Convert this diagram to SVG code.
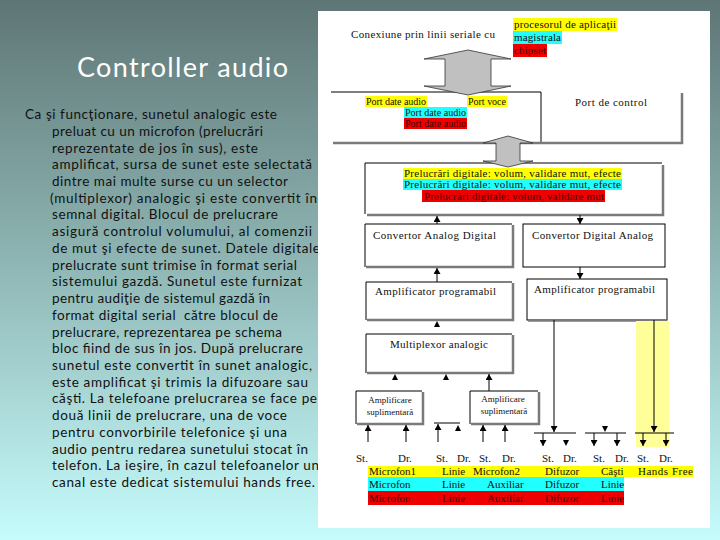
<svg xmlns="http://www.w3.org/2000/svg" width="720" height="540" viewBox="0 0 720 540">
<defs>
<linearGradient id="bg" x1="0" y1="0" x2="0" y2="1">
<stop offset="0" stop-color="#5e7675"/>
<stop offset="0.5" stop-color="#90b8b6"/>
<stop offset="1" stop-color="#c6fcfc"/>
</linearGradient>
<marker id="ah" markerUnits="userSpaceOnUse" markerWidth="6" markerHeight="7" refX="6" refY="3.5" orient="auto" viewBox="0 0 6 7"><path d="M0,0 L6,3.5 L0,7 z" fill="#000"/></marker>
</defs>
<style>
.body{font-family:Lato,"Open Sans",sans-serif;font-size:13.5px;fill:#111}
.title{font-family:Lato,"Open Sans",sans-serif;font-size:27px;fill:#fff}
.t{font-family:"Liberation Serif","Times New Roman",serif;font-size:11px;fill:#111}
.s{font-size:9px}
.p{font-size:10px}
.y{fill:#ffff00}.c{fill:#22ffff}.r{fill:#ee0000}
.rt{fill:#4a0000}
.bl{fill:none;stroke:#000;stroke-width:1}
.sh{fill:none;stroke:#7a7a7a;stroke-width:2.5}
.ln{stroke:#000;stroke-width:1;fill:none}
.ar{stroke:#000;stroke-width:1;fill:none;marker-end:url(#ah)}
.big{fill:#c0c0c0;stroke:#333;stroke-width:0.8}
.tri{fill:#000}
</style>
<rect x="0" y="0" width="720" height="540" fill="url(#bg)"/>

<g id="text-panel">
<text class="title" x="77" y="77" textLength="211">Controller audio</text>
<text class="body" x="25" y="119" textLength="252">Ca şi funcţionare, sunetul analogic este</text>
<text class="body" x="52" y="135.7" textLength="211">preluat cu un microfon (prelucrări</text>
<text class="body" x="52" y="152.5" textLength="206">reprezentate de jos în sus), este</text>
<text class="body" x="52" y="169.2" textLength="260">amplificat, sursa de sunet este selectată</text>
<text class="body" x="52" y="185.9" textLength="236">dintre mai multe surse cu un selector</text>
<text class="body" x="50" y="202.7" textLength="267">(multiplexor) analogic şi este convertit în</text>
<text class="body" x="52" y="219.4" textLength="226">semnal digital. Blocul de prelucrare</text>
<text class="body" x="52" y="236.1" textLength="260">asigură controlul volumului, al comenzii</text>
<text class="body" x="52" y="252.8" textLength="268">de mut şi efecte de sunet. Datele digitale</text>
<text class="body" x="52" y="269.6" textLength="245">prelucrate sunt trimise în format serial</text>
<text class="body" x="52" y="286.3" textLength="250">sistemului gazdă. Sunetul este furnizat</text>
<text class="body" x="52" y="303" textLength="218">pentru audiţie de sistemul gazdă în</text>
<text class="body" x="52" y="319.8" textLength="226" xml:space="preserve">format digital serial  către blocul de</text>
<text class="body" x="52" y="336.5" textLength="230">prelucrare, reprezentarea pe schema</text>
<text class="body" x="52" y="353.2" textLength="251">bloc fiind de sus în jos. După prelucrare</text>
<text class="body" x="52" y="370" textLength="260">sunetul este convertit în sunet analogic,</text>
<text class="body" x="52" y="386.7" textLength="256">este amplificat şi trimis la difuzoare sau</text>
<text class="body" x="52" y="403.4" textLength="265">căşti. La telefoane prelucrarea se face pe</text>
<text class="body" x="52" y="420.1" textLength="235">două linii de prelucrare, una de voce</text>
<text class="body" x="52" y="436.9" textLength="235">pentru convorbirile telefonice şi una</text>
<text class="body" x="52" y="453.6" textLength="256">audio pentru redarea sunetului stocat în</text>
<text class="body" x="52" y="470.3" textLength="267">telefon. La ieşire, în cazul telefoanelor un</text>
<text class="body" x="52" y="487" textLength="263">canal este dedicat sistemului hands free.</text>
</g>

<rect id="diagram-panel" x="318" y="11" width="392" height="517" fill="#ffffff"/>

<g id="host-label">
<text class="t" x="351" y="38" textLength="144">Conexiune prin linii seriale cu</text>
<rect class="y" x="513" y="18" width="104" height="13"/>
<text class="t" x="514" y="28" textLength="102">procesorul de aplicaţii</text>
<rect class="c" x="513" y="31" width="49" height="13"/>
<text class="t" x="514" y="41" textLength="47">magistrala</text>
<rect class="r" x="513" y="44" width="34" height="13"/>
<text class="t rt" x="514" y="54" textLength="32">chipset</text>
</g>

<g id="ports">
<path class="bl" d="M331,92 H541 V143"/>
<path class="sh" d="M333,143 H682 V93"/>
<rect class="y" x="365" y="96" width="62" height="11"/>
<text class="t p" x="366" y="105" textLength="60">Port date audio</text>
<rect class="y" x="467" y="96" width="40" height="11"/>
<text class="t p" x="468" y="105" textLength="38">Port voce</text>
<rect class="c" x="404" y="107" width="63" height="11"/>
<text class="t p" x="405" y="116" textLength="61">Port date audio</text>
<rect class="r" x="404" y="118" width="63" height="11"/>
<text class="t p rt" x="405" y="127" textLength="61">Port date audio</text>
<text class="t" x="575" y="106" textLength="72">Port de control</text>
</g>

<g id="processing">
<path class="sh" d="M367,215 H663 V165"/>
<path class="bl" d="M365,214 V163 H662"/>
<rect class="y" x="403" y="168" width="219" height="11"/>
<text class="t" x="404" y="177" textLength="217">Prelucrări digitale: volum, validare mut, efecte</text>
<rect class="c" x="403" y="179" width="219" height="11"/>
<text class="t" x="404" y="188" textLength="217">Prelucrări digitale: volum, validare mut, efecte</text>
<rect class="r" x="422" y="190" width="183" height="12"/>
<text class="t rt" x="424" y="200" textLength="180">Prelucrări digitale: volum, validare mut</text>
</g>

<g id="adc">
<path class="sh" d="M366,267 H513 V225"/>
<path class="bl" d="M365,267 V224 H512"/>
<text class="t" x="373" y="239" textLength="123">Convertor Analog Digital</text>
</g>
<g id="dac">
<rect class="bl" x="523" y="224" width="142" height="43"/>
<text class="t" x="532" y="239" textLength="121">Convertor Digital Analog</text>
</g>
<g id="amp-in">
<path class="sh" d="M367,320 H513 V283"/>
<path class="bl" d="M366,320 V282 H512"/>
<text class="t" x="375" y="295" textLength="121">Amplificator programabil</text>
</g>
<g id="amp-out">
<rect class="bl" x="527" y="279" width="140" height="41"/>
<path class="sh" d="M528,320.5 H667"/>
<text class="t" x="534" y="293" textLength="121">Amplificator programabil</text>
</g>
<g id="mux">
<path class="sh" d="M367,373 H513 V335"/>
<path class="bl" d="M366,373 V334 H512"/>
<text class="t" x="390" y="348" textLength="98">Multiplexor analogic</text>
</g>
<g id="preamp1">
<path class="sh" d="M357,424 H423 V392"/>
<path class="bl" d="M356,424 V391 H422"/>
<text class="t s" x="390" y="403" text-anchor="middle">Amplificare</text>
<text class="t s" x="390" y="415" text-anchor="middle">suplimentară</text>
</g>
<g id="preamp2">
<path class="sh" d="M471,424 H539 V392"/>
<path class="bl" d="M470,424 V391 H538"/>
<text class="t s" x="503" y="402" text-anchor="middle">Amplificare</text>
<text class="t s" x="504" y="414" text-anchor="middle">suplimentară</text>
</g>

<rect id="handsfree-band" x="636" y="321" width="33" height="126" fill="#ffff99"/>

<g id="connectors">
<polygon class="big" points="468,50 511,59 491,59 491,86 511,86 468,95 424,86 445,86 445,59 424,59"/>
<polygon class="big" points="508,136 533,143 520,143 520,161 533,161 508,167 483,161 496,161 496,143 483,143"/>
<path class="ar" d="M437,224 V216"/>
<path class="ar" d="M580,215 V224"/>
<path class="ar" d="M437,282 V268"/>
<path class="ar" d="M580,267 V279"/>
<polygon class="tri" points="434,327 440,327 437,321"/>
<polygon class="tri" points="392,380 398,380 395,374"/>
<polygon class="tri" points="443,380 449,380 446,374"/>
<path class="ar" d="M489,391 V374"/>
<path class="ar" d="M368,442 V425"/>
<path class="ar" d="M406,442 V425"/>
<path class="ln" d="M434,423 H460"/>
<path class="ar" d="M438,442 V424"/>
<polygon class="tri" points="455,431 461,431 458,425"/>
<path class="ar" d="M483,442 V425"/>
<path class="ar" d="M505,442 V425"/>
<path class="ar" d="M554,320 V432"/>
<path class="ln" d="M534,433 H576"/>
<path class="ar" d="M543,433 V446"/>
<polygon class="tri" points="563,440 569,440 566,446"/>
<polygon class="tri" points="602,426 608,426 605,432"/>
<path class="ln" d="M585,433 H626"/>
<path class="ar" d="M594,433 V446"/>
<path class="ar" d="M617,433 V446"/>
<path class="ar" d="M654,320 V432"/>
<path class="ln" d="M635,433 H674"/>
<path class="ar" d="M643,433 V446"/>
<path class="ar" d="M666,433 V446"/>
</g>

<g id="channel-labels">
<text class="t" x="356" y="462">St.</text>
<text class="t" x="398" y="462">Dr.</text>
<text class="t" x="436" y="462">St.</text>
<text class="t" x="457" y="462">Dr.</text>
<text class="t" x="479" y="462">St.</text>
<text class="t" x="502" y="462">Dr.</text>
<text class="t" x="542" y="462">St.</text>
<text class="t" x="563" y="462">Dr.</text>
<text class="t" x="593" y="462">St.</text>
<text class="t" x="615" y="462">Dr.</text>
<text class="t" x="637" y="462">St.</text>
<text class="t" x="659" y="462">Dr.</text>
</g>

<g id="sources">
<rect class="y" x="368" y="466" width="325" height="11"/>
<rect class="c" x="368" y="477" width="256" height="14"/>
<rect class="r" x="368" y="491" width="256" height="14"/>
<text class="t" x="369" y="475">Microfon1</text>
<text class="t" x="442" y="475">Linie</text>
<text class="t" x="473" y="475">Microfon2</text>
<text class="t" x="545" y="475">Difuzor</text>
<text class="t" x="601" y="475">Căşti</text>
<text class="t" x="638" y="475" textLength="55">Hands Free</text>
<text class="t" x="369" y="488">Microfon</text>
<text class="t" x="442" y="488">Linie</text>
<text class="t" x="487" y="488">Auxiliar</text>
<text class="t" x="545" y="488">Difuzor</text>
<text class="t" x="601" y="488">Linie</text>
<text class="t rt" x="369" y="502">Microfon</text>
<text class="t rt" x="442" y="502">Linie</text>
<text class="t rt" x="487" y="502">Auxiliar</text>
<text class="t rt" x="545" y="502">Difuzor</text>
<text class="t rt" x="601" y="502">Linie</text>
</g>
</svg>
